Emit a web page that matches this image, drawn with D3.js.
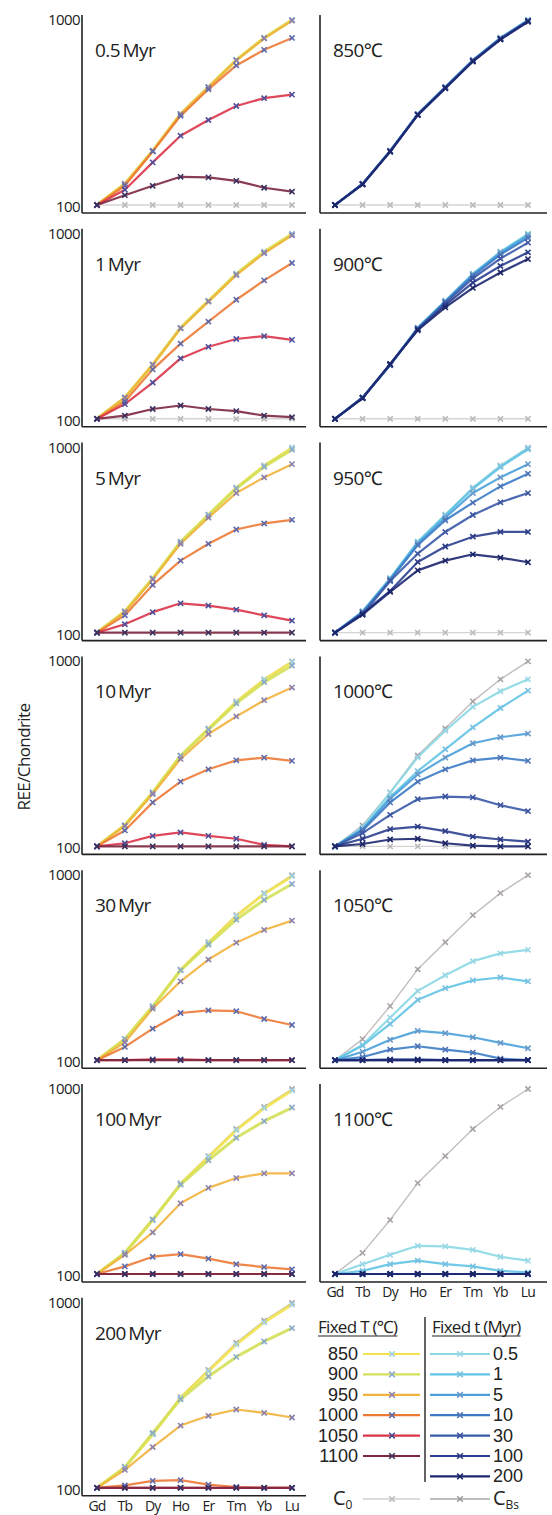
<!DOCTYPE html>
<html><head><meta charset="utf-8">
<script src="https://cdn.jsdelivr.net/npm/d3@7"></script>
<style>
html,body{margin:0;padding:0;background:#fff;}
svg{display:block;font-family:"Open Sans","Noto Sans",sans-serif;}
</style></head>
<body><svg id="c" width="552" height="1515"></svg>
<script>
const elements = ["Gd","Tb","Dy","Ho","Er","Tm","Yb","Lu"];
const temps = [850,900,950,1000,1050,1100];
const times = [0.5,1,5,10,30,100,200];
const yTicks = [100,1000];
const cBs = [100,130,196,310,434,608,800,1000];
const c0  = [100,100,100,100,100,100,100,100];

// REE/chondrite per temperature; rows = times 0.5,1,5,10,30,100,200 Myr
const ree850 = [
 [100,130,196,310,434,608,800,1000],
 [100,130,196,310,434,607,799,998],
 [100,130,196,309,433,606,797,995],
 [100,130,196,309,432,604,795,992],
 [100,130,195,308,431,602,792,988],
 [100,130,195,307,429,599,788,983],
 [100,129,194,306,427,596,784,978]
];
const ree900 = [
 [100,130,196,310,434,607,799,998],
 [100,130,196,310,433,605,795,990],
 [100,130,196,309,431,600,788,975],
 [100,130,195,308,428,593,772,950],
 [100,130,195,306,422,575,735,896],
 [100,130,197,304,412,545,670,794],
 [100,129,198,301,400,510,618,730]
];
const ree950 = [
 [100,130,196,310,433,605,796,993],
 [100,130,196,308,430,598,785,980],
 [100,129,194,302,418,568,690,814],
 [100,129,192,297,405,504,617,722],
 [100,125,190,267,350,432,506,568],
 [100,127,168,241,292,330,350,350],
 [100,125,166,217,245,265,254,240]
];
const ree1000 = [
 [100,127,195,303,422,568,690,800],
 [100,124,185,255,335,440,560,695],
 [100,124,181,245,302,361,389,407],
 [100,122,173,224,261,292,302,290],
 [100,118,148,180,186,184,167,155],
 [100,110,124,128,121,113,109,106],
 [100,103,109,110,104,101,100,100]
];
const ree1050 = [
 [100,121,170,237,288,343,378,395],
 [100,120,157,212,245,270,280,267],
 [100,111,129,144,140,133,124,116],
 [100,104,114,119,114,110,102,100],
 [100,100,101,101,100,100,100,100],
 [100,100,100,100,100,100,100,100],
 [100,100,100,100,100,100,100,100]
];
const ree1100 = [
 [100,113,127,142,141,135,124,118],
 [100,104,113,118,113,110,104,102],
 [100,100,100,100,100,100,100,100],
 [100,100,100,100,100,100,100,100],
 [100,100,100,100,100,100,100,100],
 [100,100,100,100,100,100,100,100],
 [100,100,100,100,100,100,100,100]
];
const reeByTemp = [ree850, ree900, ree950, ree1000, ree1050, ree1100];

const tempColors = ["#f3e24e","#d4e05a","#f2b33c","#ec7a35","#dc3448","#7c2840"];
const tempMarkers = ["#9fd2e8","#8aa9cc","#8a7fae","#5b6aae","#4b4f9c","#3a2f5e"];
const timeColors = ["#8ad8e4","#62c3e6","#4aa0da","#3c7cc6","#3a5aa8","#2b3f8e","#1d2870"];
const timeMarkers = ["#9ad6e6","#78c0e0","#6a98c8","#4f74b6","#3d55a0","#2d3a86","#1c2566"];
const c0Color = "#cfcfcf", cBsColor = "#bdb6b8";

const svg = d3.select("#c");
const rowTop = i => 15 + i*213.8;
const leftX = d3.scalePoint().domain(elements).range([97,292]);
const rightX = d3.scalePoint().domain(elements).range([335,528]);

function cross(g, x, y, col, s){
  g.append("path").attr("d",`M${x-s},${y-s}L${x+s},${y+s}M${x-s},${y+s}L${x+s},${y-s}`)
    .attr("stroke",col).attr("stroke-width",1.6).attr("fill","none");
}

function series(g, xs, ys, vals, color, mcol, w){
  const line = d3.line().x((d,i)=>xs(elements[i])).y(d=>ys(d));
  g.append("path").attr("d",line(vals)).attr("fill","none")
   .attr("stroke",color).attr("stroke-width",w).attr("stroke-opacity",0.9)
   .attr("stroke-linejoin","round");
  vals.forEach((v,i)=>cross(g, xs(elements[i]), ys(v), mcol, 2.6));
}

function panel(xs, axisX, axisEnd, top, label, seriesList, showY, showX){
  const g = svg.append("g");
  const ys = d3.scaleLog().domain([100,1000]).range([top+190, top+5]);
  const bottom = top+198;
  series(g, xs, ys, c0, c0Color, "#b9b9b9", 1.4);
  series(g, xs, ys, cBs, cBsColor, "#a9a3a5", 1.4);
  seriesList.forEach(s => series(g, xs, ys, s.vals, s.color, s.marker, s.w));
  g.append("line").attr("x1",axisX).attr("x2",axisX).attr("y1",top).attr("y2",bottom)
   .attr("stroke","#222").attr("stroke-width",1.6);
  g.append("line").attr("x1",axisX).attr("x2",axisEnd).attr("y1",bottom).attr("y2",bottom)
   .attr("stroke","#222").attr("stroke-width",1.6);
  if(showY){
    yTicks.forEach(t=>{
      g.append("text").attr("x",axisX-2).attr("y",ys(t)+ (t===100?7:5))
       .attr("text-anchor","end").attr("font-size",15).attr("letter-spacing",-0.6)
       .attr("fill","#222").text(t);
    });
  }
  if(showX){
    elements.forEach(e=>{
      g.append("text").attr("x",xs(e)).attr("y",bottom+15).attr("text-anchor","middle")
       .attr("font-size",14).attr("letter-spacing",-0.8).attr("fill","#222").text(e);
    });
  }
  g.append("text").attr("x",axisX+13).attr("y",top+42).attr("font-size",19)
   .attr("letter-spacing",-0.6).attr("fill","#222").text(label);
}

times.forEach((t,i)=>{
  const list = temps.map((T,k)=>({vals:reeByTemp[k][i], color:tempColors[k], marker:tempMarkers[k], w:k<2?3:2.2}));
  panel(leftX, 82, 306, rowTop(i), t+"\u2009Myr", list, true, i===times.length-1);
});
temps.forEach((T,k)=>{
  const list = times.map((t,i)=>({vals:reeByTemp[k][i], color:timeColors[i], marker:timeMarkers[i], w:2.2}));
  panel(rightX, 320, 547, rowTop(k), T+"\u2103", list, false, k===temps.length-1);
});

svg.append("text").attr("transform","translate(30,757) rotate(-90)")
  .attr("text-anchor","middle").attr("font-size",17).attr("letter-spacing",-0.6)
  .attr("fill","#222").text("REE/Chondrite");

// legend
const lg = svg.append("g");
function header(x, txt){
  const t = lg.append("text").attr("x",x).attr("y",1333).attr("font-size",17)
   .attr("letter-spacing",-0.7).attr("fill","#222").text(txt);
  const w = t.node().getComputedTextLength();
  lg.append("line").attr("x1",x).attr("x2",x+w).attr("y1",1336).attr("y2",1336)
   .attr("stroke","#222").attr("stroke-width",1.2);
}
header(318, "Fixed T (\u2103)");
header(432, "Fixed t (Myr)");
lg.append("line").attr("x1",425).attr("x2",425).attr("y1",1317).attr("y2",1482)
  .attr("stroke","#222").attr("stroke-width",1.4);
const rowY = j => 1354 + j*20.4;
const legFont = '"Liberation Sans", Arial, sans-serif';
temps.forEach((T,k)=>{
  const y = rowY(k);
  lg.append("line").attr("x1",363).attr("x2",420).attr("y1",y).attr("y2",y)
    .attr("stroke",tempColors[k]).attr("stroke-width",2.2);
  cross(lg, 392, y, tempMarkers[k], 2.8);
  lg.append("text").attr("x",358).attr("y",y+6).attr("text-anchor","end")
    .attr("font-family",legFont).attr("font-size",18).attr("fill","#222").text(T);
});
times.forEach((t,i)=>{
  const y = rowY(i);
  lg.append("line").attr("x1",430).attr("x2",490).attr("y1",y).attr("y2",y)
    .attr("stroke",timeColors[i]).attr("stroke-width",2.2);
  cross(lg, 460, y, timeMarkers[i], 2.8);
  lg.append("text").attr("x",493).attr("y",y+6).attr("text-anchor","start")
    .attr("font-family",legFont).attr("font-size",18).attr("fill","#222").text(t);
});
const cy = 1499;
lg.append("line").attr("x1",363).attr("x2",420).attr("y1",cy).attr("y2",cy).attr("stroke",c0Color).attr("stroke-width",1.6);
cross(lg, 392, cy, "#b9b9b9", 2.8);
lg.append("line").attr("x1",430).attr("x2",490).attr("y1",cy).attr("y2",cy).attr("stroke","#a8a8a8").attr("stroke-width",1.6);
cross(lg, 460, cy, "#9a9a9a", 2.8);
const t0 = lg.append("text").attr("x",333).attr("y",cy+6).attr("font-size",20).attr("fill","#222");
t0.append("tspan").text("C");
t0.append("tspan").attr("font-size",12).attr("dy",4).text("0");
const tb = lg.append("text").attr("x",493).attr("y",cy+6).attr("font-size",20).attr("fill","#222");
tb.append("tspan").text("C");
tb.append("tspan").attr("font-size",12).attr("dy",4).text("Bs");
</script></body></html>
